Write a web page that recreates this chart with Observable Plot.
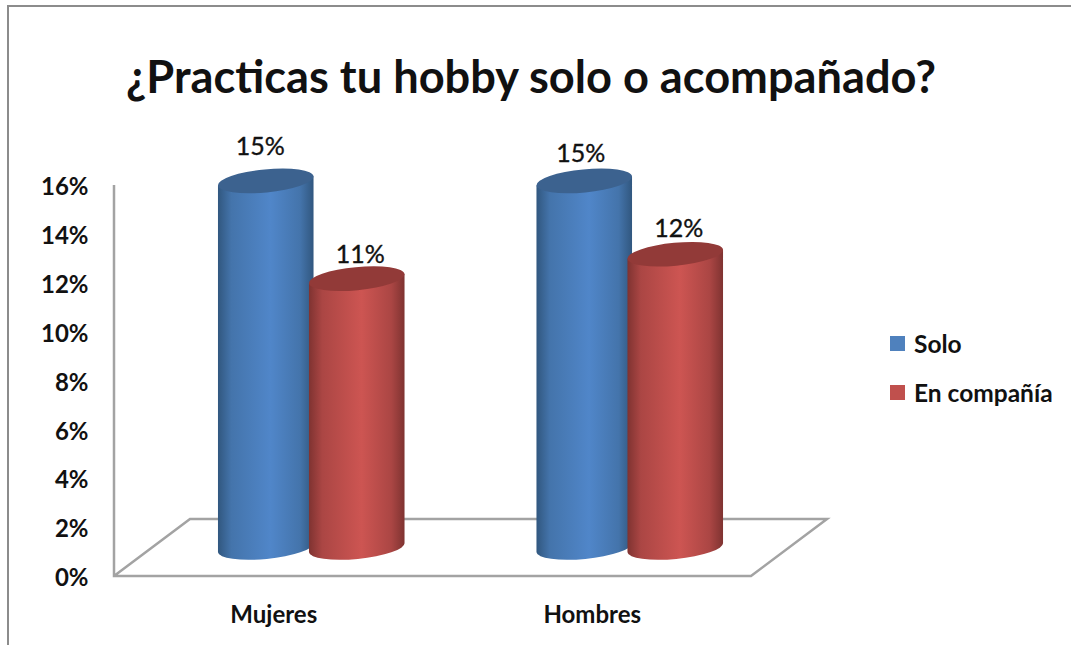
<!DOCTYPE html>
<html lang="es">
<head>
<meta charset="utf-8">
<script src="https://cdn.jsdelivr.net/npm/d3@7"></script>
<script src="https://cdn.jsdelivr.net/npm/@observablehq/plot@0.6"></script>
<style>
  html, body { margin: 0; padding: 0; background: #fff; }
  #page { position: relative; width: 1071px; height: 645px; overflow: hidden; font-family: Lato, sans-serif; color: #111; }
  #frame { position: absolute; left: 7px; top: 5px; width: 1070px; height: 660px; border-left: 2px solid #8c8c8c; border-top: 2px solid #8c8c8c; }
  #title { position: absolute; left: 0; top: 46px; width: 1062px; text-align: center; font-size: 45.2px; font-weight: 700; line-height: 60px; white-space: nowrap; }
  #chart { position: absolute; left: 0; top: 120px; }
  #legend { position: absolute; left: 890px; top: 319px; font-size: 24.5px; font-weight: 700; }
  .item { display: flex; align-items: center; height: 49px; }
  .swatch { width: 15px; height: 15px; margin-right: 9px; }
</style>
</head>
<body>
<div id="page">
  <div id="frame"></div>
  <div id="title">¿Practicas tu hobby solo o acompañado?</div>
  <div id="chart"></div>
  <div id="legend"></div>
</div>
<script>
const title = "¿Practicas tu hobby solo o acompañado?";
const categories = ["Mujeres", "Hombres"];
const seriesNames = ["Solo", "En compañía"];
const soloValues = [15, 15];
const companiaValues = [11, 12];
const yTicks = [0, 2, 4, 6, 8, 10, 12, 14, 16];

// Styles and layout, separate from the data
const seriesColors = ["#4f81bd", "#c0504d"];
const edgeColors = ["#31577f", "#7f3331"];
const shoulderColors = ["#4474ab", "#ab4644"];
const highlightColors = ["#5086c9", "#cd5552"];
const topColors = ["#3c628f", "#923a38"];
const labelNudges = [[-6, -34], [3, -24], [-4, -27], [3, -26]];
const top0 = 120;
const depthX = 38, depthY = 28.5, barOffset = 45.5, rx = 48, ry = 11.5, tilt = 5.5;

const rows = categories.flatMap((category, i) => [
  {category, series: seriesNames[0], si: 0, value: soloValues[i]},
  {category, series: seriesNames[1], si: 1, value: companiaValues[i]}
]);

function scene(index, {x, y}) {
  const g = d3.create("svg:g");
  const step = x(categories[1]) - x(categories[0]);
  const left = x(categories[0]), right = left + step * 2;
  const y0 = y(0), y1 = y(yTicks[yTicks.length - 1]);
  const wall = "#a3a3a3";
  const defs = g.append("defs");
  seriesColors.forEach((c, i) => {
    const lg = defs.append("linearGradient").attr("id", "cyl" + i);
    [[0, edgeColors[i]], [0.14, shoulderColors[i]], [0.55, highlightColors[i]], [0.86, shoulderColors[i]], [1, edgeColors[i]]]
      .forEach(([o, col]) => lg.append("stop").attr("offset", o).attr("stop-color", col));
  });
  // Floor and the vertical axis
  g.append("path").attr("fill", "none").attr("stroke", wall).attr("stroke-width", 2.5)
    .attr("d", `M${left},${y1}V${y0}H${right}L${right + 2 * depthX},${y0 - 2 * depthY}H${left + 2 * depthX}L${left},${y0}`);
  // Cylinders
  const a = tilt * Math.PI / 180, ax = rx * Math.cos(a), ay = rx * Math.sin(a);
  rows.forEach(d => {
    const cx = x(d.category) + step / 2 + depthX + (d.si ? barOffset : -barOffset);
    const base = y0 - depthY, t = y(d.value) - depthY;
    g.append("path").attr("fill", `url(#cyl${d.si})`)
      .attr("d", `M${cx - ax},${t + ay}L${cx - ax},${base + ay}A${rx},${ry} ${-tilt} 0 0 ${cx + ax},${base - ay}L${cx + ax},${t - ay}Z`);
    g.append("ellipse").attr("cx", cx).attr("cy", t).attr("rx", rx).attr("ry", ry)
      .attr("transform", `rotate(${-tilt} ${cx} ${t})`).attr("fill", topColors[d.si]);
  });
  return g.node();
}

const chart = Plot.plot({
  width: 1071,
  height: 645 - top0,
  marginTop: 0, marginBottom: 0, marginLeft: 0, marginRight: 0,
  style: {background: "transparent", fontFamily: "Lato, sans-serif", color: "#111", overflow: "visible"},
  x: {type: "band", domain: categories, range: [114, 751], padding: 0, round: false},
  y: {domain: [0, 16], range: [576 - top0, 185 - top0]},
  marks: [
    scene,
    Plot.axisY(yTicks, {anchor: "left", frameAnchor: "left", dx: 88, dy: 2, tickSize: 0, tickPadding: 0, tickFormat: d => d + "%", fontSize: 24, fontWeight: 700, textAnchor: "end", label: null}),
    Plot.axisX(categories, {anchor: "bottom", y: 0, dy: 29, tickSize: 0, tickPadding: 0, fontSize: 24, fontWeight: 700, letterSpacing: 0.6, label: null}),
    ...rows.map((d, i) => Plot.text([d], {
      x: "category", y: "value", text: r => r.value + "%",
      dx: 38 + (d.si ? 45.5 : -45.5) + labelNudges[i][0],
      dy: -depthY + labelNudges[i][1],
      fontSize: 25, fill: "#111", stroke: "#111", strokeWidth: 0.35
    }))
  ]
});
document.getElementById("chart").appendChild(chart);

const legend = d3.select("#legend");
seriesNames.forEach((name, i) => {
  const item = legend.append("div").attr("class", "item");
  item.append("span").attr("class", "swatch").style("background", seriesColors[i]);
  item.append("span").text(name);
});
document.getElementById("title").textContent = title;
</script>
</body>
</html>
